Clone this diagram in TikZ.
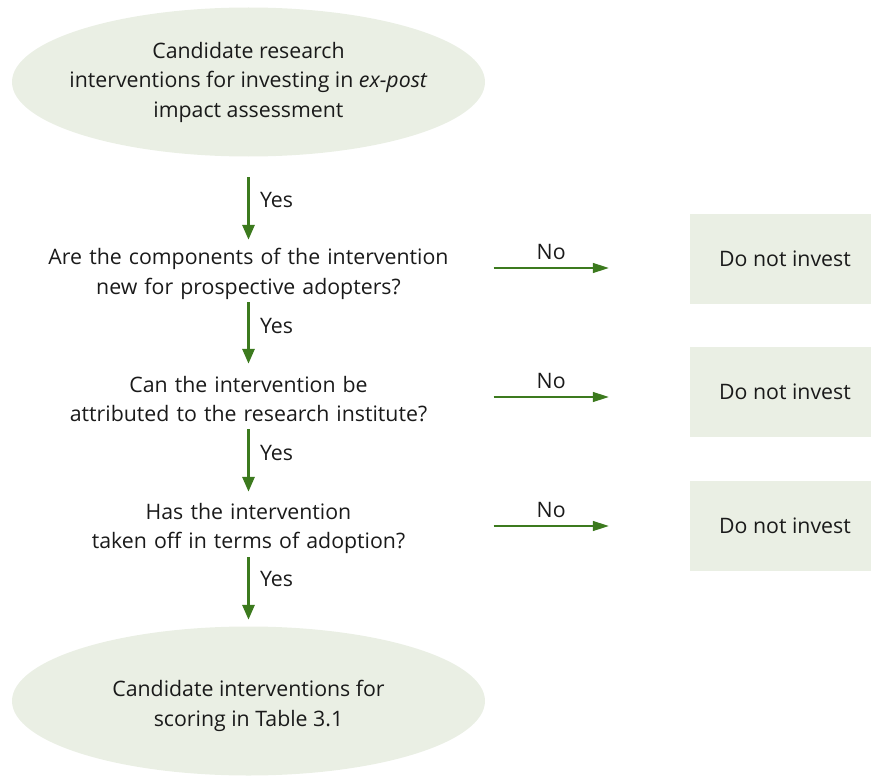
\documentclass[tikz,border=0pt]{standalone}
\usepackage{fontspec}
\setmainfont{Open Sans}
\usetikzlibrary{arrows.meta,shapes.geometric,calc}
\definecolor{lgreen}{HTML}{EAEFE4}
\definecolor{dgreen}{HTML}{3C7A1E}
\definecolor{txt}{HTML}{1A1A1A}
\begin{document}
\begin{tikzpicture}[x=1pt,y=-1pt,
  every node/.style={text=txt,font=\fontsize{21.3}{29.5}\selectfont},
  oval/.style={ellipse,fill=lgreen,minimum width=473pt,minimum height=149pt,inner sep=0pt},
  ovaltext/.style={align=center,inner sep=0pt},
  question/.style={text width=490pt,align=center,inner sep=0pt},
  stopbox/.style={rectangle,fill=lgreen,minimum width=181pt,minimum height=90pt,inner sep=0pt},
  varrow/.style={draw=dgreen,line width=3pt,-{Triangle[length=15pt,width=12pt]}},
  harrow/.style={draw=dgreen,line width=1.3pt,-{Triangle[length=16pt,width=10pt]}},
  yeslbl/.style={anchor=west,inner sep=0pt,xshift=10pt},
  nolbl/.style={pos=0.293,above=8pt,inner sep=0pt}]
\useasboundingbox (0,0) rectangle (871,776);
\node[oval,label={[ovaltext]center:Candidate research\\interventions for investing in \emph{ex-post}\\impact assessment}] (top) at (248.5,82) {};
\node[question,minimum height=68pt] (q1) at (248.5,274) {Are the components of the intervention\\new for prospective adopters?};
\node[question,minimum height=70pt] (q2) at (248.5,399) {Can the intervention be\\attributed to the research institute?};
\node[question,minimum height=73pt] (q3) at (248.5,528.5) {Has the intervention\\taken off in terms of adoption?};
\node[oval,label={[ovaltext,yshift=-5pt]center:Candidate interventions for\\scoring in Table 3.1}] (bot) at (248.5,701) {};
\node[stopbox] (b1) at (780.5,259) {\hspace{9pt}Do not invest};
\node[stopbox] (b2) at (780.5,392) {\hspace{9pt}Do not invest};
\node[stopbox] (b3) at (780.5,526) {\hspace{9pt}Do not invest};
\draw[varrow,shorten <=20.5pt] (top.south) -- (q1.north) node[yeslbl,pos=0.52] {Yes};
\draw[varrow,shorten <=-6pt] (q1.south) -- (q2.north) node[yeslbl,pos=0.32] {Yes};
\draw[varrow,shorten <=-5pt] (q2.south) -- (q3.north) node[yeslbl,pos=0.33] {Yes};
\draw[varrow,shorten <=-8pt,shorten >=6.5pt] (q3.south) -- (bot.north) node[yeslbl,pos=0.23] {Yes};
\draw[harrow,shorten >=81pt] ([yshift=6pt]q1.east) -- ([yshift=6pt]q1.east -| b1.west) node[nolbl] {No};
\draw[harrow,shorten >=81pt] ([yshift=2pt]q2.east) -- ([yshift=2pt]q2.east -| b2.west) node[nolbl] {No};
\draw[harrow,shorten >=81pt] ([yshift=2.5pt]q3.east) -- ([yshift=2.5pt]q3.east -| b3.west) node[nolbl] {No};
\end{tikzpicture}
\end{document}
